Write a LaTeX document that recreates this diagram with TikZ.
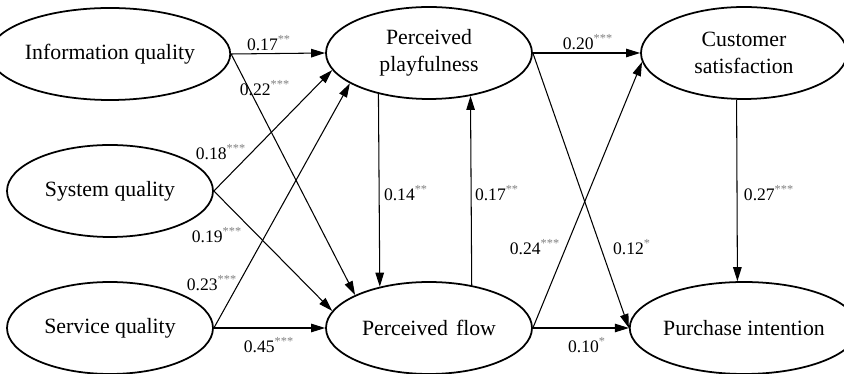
\documentclass[tikz,border=0pt]{standalone}
\usepackage{fontspec}
\setmainfont{Liberation Serif}
\usetikzlibrary{arrows.meta,shapes.geometric}

\tikzset{
  construct/.style={ellipse, draw, line width=1pt, minimum width=4.12cm,
    minimum height=1.84cm, inner sep=0pt, align=center,
    font=\fontsize{12.4}{15.4}\selectfont},
  coef/.style={font=\fontsize{10}{12}\selectfont, inner sep=1pt},
}
\newcommand{\sig}[1]{\textsuperscript{\textcolor{gray}{#1}}}

\begin{document}
\begin{tikzpicture}[->,>={Triangle[length=0.28cm,width=0.17cm]}, line width=0.6pt]
  \useasboundingbox (0,0) rectangle (16.88,7.48);
  % constructs
  \node[construct] (info) at (2.2,6.4)   {Information quality};
  \node[construct] (sys)  at (2.2,3.66)  {System quality};
  \node[construct] (serv) at (2.2,0.92)  {Service quality};
  \node[construct] (play) at (8.58,6.42) {Perceived\\playfulness};
  \node[construct] (flow) at (8.58,0.92) {Perceived\hspace{0.37em}flow};
  \node[construct] (sat)  at (14.88,6.42) {Customer\\satisfaction};
  \node[construct] (pur)  at (14.88,0.92) {Purchase intention};
  % paths
  \path (info.east) edge (play.west) edge (flow.156);
  \path (sys.east)  edge (play.190) edge (flow.170);
  \path (serv.east) edge (play.201) edge (flow.west);
  \path (play.219.6) edge (flow.140.4);
  \path (flow.45.8) edge (play.314.2);
  \path (play.east) edge (sat.west) edge (pur.west);
  \path (flow.east) edge (sat.185) edge (pur.west);
  \path (sat.261.3) edge (pur.98.7);
  % coefficients
  \node[coef] (c1)  at (5.38,6.62)  {0.17\sig{**}};
  \node[coef] (c2)  at (5.30,5.72)  {0.22\sig{***}};
  \node[coef] (c3)  at (4.42,4.44)  {0.18\sig{***}};
  \node[coef] (c4)  at (4.34,2.78)  {0.19\sig{***}};
  \node[coef] (c5)  at (4.24,1.82)  {0.23\sig{***}};
  \node[coef] (c6)  at (5.38,0.58)  {0.45\sig{***}};
  \node[coef] (c7)  at (8.12,3.62)  {0.14\sig{**}};
  \node[coef] (c8)  at (9.94,3.62)  {0.17\sig{**}};
  \node[coef] (c9)  at (11.76,6.64) {0.20\sig{***}};
  \node[coef] (c10) at (10.70,2.54) {0.24\sig{***}};
  \node[coef] (c11) at (12.64,2.54) {0.12\sig{*}};
  \node[coef] (c12) at (11.74,0.58) {0.10\sig{*}};
  \node[coef] (c13) at (15.38,3.62) {0.27\sig{***}};
\end{tikzpicture}
\end{document}
